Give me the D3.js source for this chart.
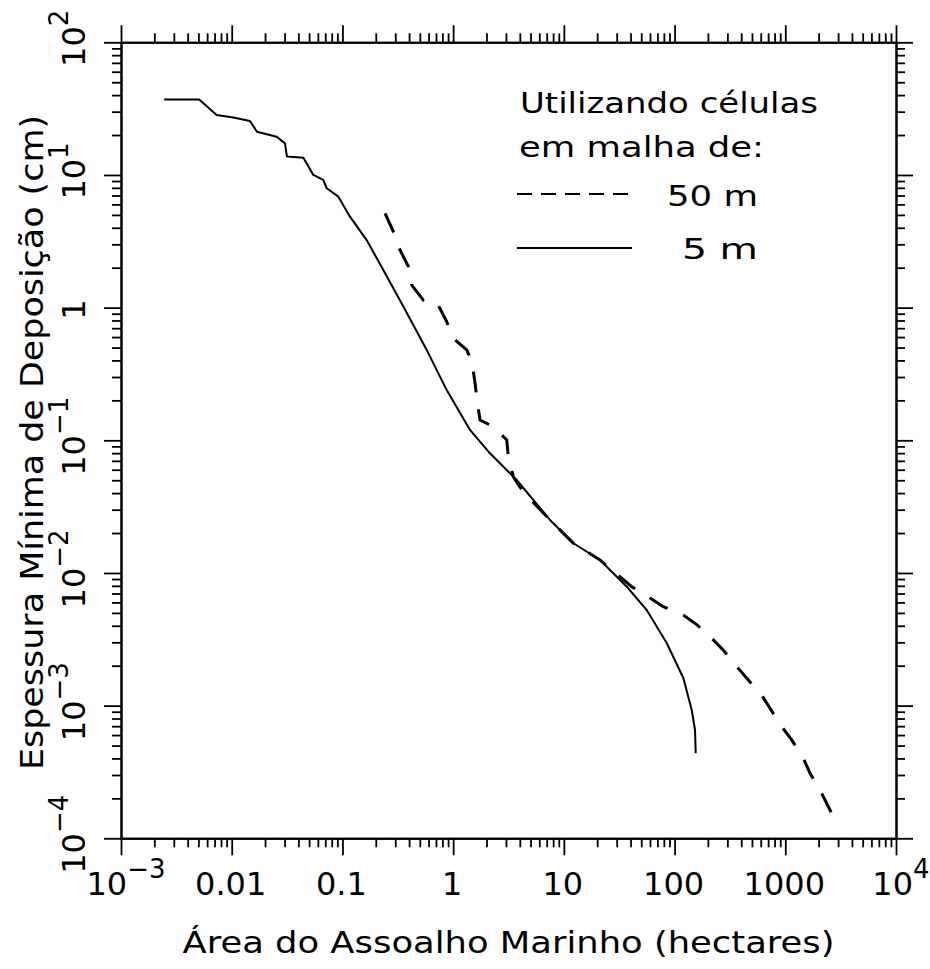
<!DOCTYPE html>
<html><head><meta charset="utf-8">
<script src="https://cdn.jsdelivr.net/npm/d3@7"></script>
<style>
body{margin:0;background:#fff}
svg text{font-family:"DejaVu Sans",sans-serif;fill:#000}
</style>
</head><body>
<svg id="chart" width="930" height="969"></svg>
<script>
// ---------- data ----------
const xDomain = [1e-3, 1e4];
const yDomain = [1e-4, 1e2];
const xMajorTicks = [1e-3, 1e-2, 1e-1, 1, 10, 100, 1000, 1e4];
const xTickLabels = [["10","−3"],["0.01",""],["0.1",""],["1",""],["10",""],["100",""],["1000",""],["10","4"]];
const yMajorTicks = [1e-4, 1e-3, 1e-2, 1e-1, 1, 10, 100];
const yTickLabels = [["10","−4"],["10","−3"],["10","−2"],["10","−1"],["1",""],["10","1"],["10","2"]];
const xTitle = "Área do Assoalho Marinho (hectares)";
const yTitle = "Espessura Mínima de Deposição (cm)";
const legendTitle = ["Utilizando células", "em malha de:"];
const seriesNames = ["50 m", "5 m"];

const area5m  = [0.00246,0.00509,0.00731,0.01033,0.01462,0.0169,0.02547,0.0303,0.0315,0.0444,0.0546,0.0671,0.0721,0.0919,0.117,0.1656,0.234,0.355,0.577,0.875,1.42,2.15,3.75,7.50,12.2,21.2,37.0,56.0,84.9,120,142.9,153,155.2];
const thick5m = [37.1,37.1,28.3,27.1,25.5,21.2,19.4,17.3,13.8,13.5,10.0,9.17,7.94,6.86,4.85,3.23,1.92,1.02,0.48,0.239,0.1197,0.0798,0.0502,0.0251,0.01675,0.01253,0.00788,0.00526,0.002965,0.001615,0.000927,0.000655,0.000437];

const area50m  = [0.2427,0.2884,0.320,0.394,0.423,0.538,0.711,0.875,1.005,1.327,1.48,1.577,1.643,1.75,2.31,3.05,3.15,3.50,4.30,7.50,12.2,21.2,41.0,57.8,79.1,120,159.6,216.6,275.6,364,463,612,728,929,1143,1455,1674,2061,2449,2917];
const thick50m = [5.14,3.74,2.88,2.04,1.48,1.14,1.10,0.783,0.587,0.48,0.392,0.269,0.201,0.142,0.1267,0.1005,0.0748,0.0529,0.0408,0.0251,0.01675,0.01253,0.00788,0.00662,0.00557,0.00482,0.00406,0.00322,0.00262,0.00197,0.00156,0.00120,0.000955,0.000694,0.000551,0.000401,0.000309,0.000231,0.000173,0.0001297];

// ---------- layout ----------
const svg = d3.select("#chart");
const L = 121, R = 896, T = 42.3, B = 838.3;
const x = d3.scaleLog().domain(xDomain).range([L, R]);
const y = d3.scaleLog().domain(yDomain).range([B, T]);
const majorLen = 17, minorLen = 9;

const isMajor = v => Math.abs(Math.log10(v) - Math.round(Math.log10(v))) < 1e-9;
const xMinor = x.ticks().filter(v => !isMajor(v));
const yMinor = y.ticks().filter(v => !isMajor(v));

function drawAxis(gen, tr, vals, len) {
  const g = svg.append("g").attr("transform", tr)
    .call(gen.tickValues(vals).tickSizeInner(len).tickSizeOuter(0).tickFormat(""));
  g.select(".domain").attr("stroke", "#000").attr("stroke-width", 2);
  g.selectAll(".tick line").attr("stroke", "#000").attr("stroke-width", 1.8);
  return g;
}
drawAxis(d3.axisBottom(x), `translate(0,${B})`, xMinor, minorLen);
drawAxis(d3.axisBottom(x), `translate(0,${B})`, xMajorTicks, majorLen);
drawAxis(d3.axisTop(x), `translate(0,${T})`, xMinor, minorLen);
drawAxis(d3.axisTop(x), `translate(0,${T})`, xMajorTicks, majorLen);
drawAxis(d3.axisLeft(y), `translate(${L},0)`, yMinor, minorLen);
drawAxis(d3.axisLeft(y), `translate(${L},0)`, yMajorTicks, majorLen);
drawAxis(d3.axisRight(y), `translate(${R},0)`, yMinor, minorLen);
drawAxis(d3.axisRight(y), `translate(${R},0)`, yMajorTicks, majorLen);

// tick labels
const tickFont = 32, supFont = 26;
xMajorTicks.forEach((v, i) => {
  const t = svg.append("text").attr("x", x(v) + (xTickLabels[i][1] ? 5 : -1)).attr("y", 895)
    .attr("text-anchor", "middle").attr("font-size", tickFont);
  t.append("tspan").text(xTickLabels[i][0]);
  if (xTickLabels[i][1]) t.append("tspan").attr("font-size", supFont).attr("dy", -17).text(xTickLabels[i][1]);
});
yMajorTicks.forEach((v, i) => {
  const t = svg.append("text")
    .attr("transform", `translate(85,${y(v) + (yTickLabels[i][1] ? -4 : 2)}) rotate(-90)`)
    .attr("text-anchor", "middle").attr("font-size", tickFont);
  t.append("tspan").text(yTickLabels[i][0]);
  if (yTickLabels[i][1]) t.append("tspan").attr("font-size", supFont).attr("dy", -17).text(yTickLabels[i][1]);
});

// axis titles
svg.append("text").attr("x", (L + R) / 2).attr("y", 953).attr("text-anchor", "middle")
  .attr("font-size", 30).attr("textLength", 652).attr("lengthAdjust", "spacingAndGlyphs").text(xTitle);
svg.append("text").attr("transform", `translate(43,${442.5}) rotate(-90)`).attr("text-anchor", "middle")
  .attr("font-size", 32).attr("textLength", 655).attr("lengthAdjust", "spacingAndGlyphs").text(yTitle);

// ---------- series ----------
const line = d3.line().x(d => x(d[0])).y(d => y(d[1]));
svg.append("path").datum(d3.zip(area5m, thick5m)).attr("d", line)
  .attr("fill", "none").attr("stroke", "#000").attr("stroke-width", 2).attr("stroke-linejoin", "round");
svg.append("path").datum(d3.zip(area50m, thick50m)).attr("d", line)
  .attr("fill", "none").attr("stroke", "#000").attr("stroke-width", 3).attr("stroke-dasharray", "21,17");

// ---------- legend ----------
svg.append("text").attr("x", 520).attr("y", 113).attr("font-size", 29)
  .attr("textLength", 298).attr("lengthAdjust", "spacingAndGlyphs").text(legendTitle[0]);
svg.append("text").attr("x", 519).attr("y", 157).attr("font-size", 29)
  .attr("textLength", 245).attr("lengthAdjust", "spacingAndGlyphs").text(legendTitle[1]);
svg.append("line").attr("x1", 517).attr("x2", 632).attr("y1", 194).attr("y2", 194)
  .attr("stroke", "#000").attr("stroke-width", 2).attr("stroke-dasharray", "15,9");
svg.append("text").attr("x", 667).attr("y", 206).attr("font-size", 29)
  .attr("textLength", 91).attr("lengthAdjust", "spacingAndGlyphs").text(seriesNames[0]);
svg.append("line").attr("x1", 517).attr("x2", 632).attr("y1", 248).attr("y2", 248)
  .attr("stroke", "#000").attr("stroke-width", 2);
svg.append("text").attr("x", 682).attr("y", 259).attr("font-size", 29)
  .attr("textLength", 76).attr("lengthAdjust", "spacingAndGlyphs").text(seriesNames[1]);
</script>
</body></html>
